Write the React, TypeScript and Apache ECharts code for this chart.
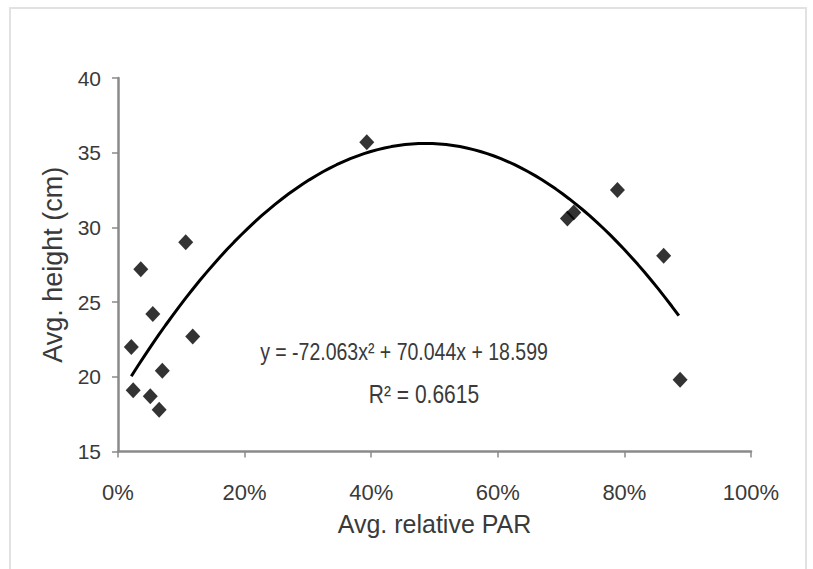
import React, { useEffect, useRef } from "react";
import * as echarts from "echarts";

// Scatter data: average relative PAR (fraction) vs average height (cm)
const parX = [0.021, 0.024, 0.036, 0.051, 0.055, 0.065, 0.070, 0.107, 0.118, 0.393, 0.710, 0.720, 0.789, 0.862, 0.888];
const heightY = [22.0, 19.1, 27.2, 18.7, 24.2, 17.8, 20.4, 29.0, 22.7, 35.7, 30.6, 31.0, 32.5, 28.1, 19.8];

// Polynomial trend line shown in the chart: y = a x^2 + b x + c
const trendCoeffs = [-72.063, 70.044, 18.599];
const trendRange = [0.021, 0.886];
const trendSteps = 80;

const xTicks = [0, 0.2, 0.4, 0.6, 0.8, 1.0];
const yTicks = [15, 20, 25, 30, 35, 40];

const equationText = "y = -72.063x² + 70.044x + 18.599";
const r2Text = "R² = 0.6615";

const SANS = "'Liberation Sans', Arial, sans-serif";
const TEXT = "#3a3a3a";

export default function App() {
  const ref = useRef<HTMLDivElement>(null);
  useEffect(() => {
    if (!ref.current) return;
    const chart = echarts.init(ref.current, undefined, { renderer: "svg" });
    const [a, b, c] = trendCoeffs;
    const trend: number[][] = [];
    for (let i = 0; i <= trendSteps; i++) {
      const x = trendRange[0] + ((trendRange[1] - trendRange[0]) * i) / trendSteps;
      trend.push([x, a * x * x + b * x + c]);
    }
    chart.setOption({
      animation: false,
      backgroundColor: "#ffffff",
      grid: { left: 118, right: 62, top: 78, bottom: 117.5 },
      xAxis: {
        type: "value",
        min: xTicks[0],
        max: xTicks[xTicks.length - 1],
        interval: 0.2,
        name: "Avg. relative PAR",
        nameLocation: "middle",
        nameGap: 60,
        nameTextStyle: { fontFamily: SANS, fontSize: 25, color: TEXT },
        axisLine: { show: true, lineStyle: { color: "#8a8a8a", width: 2.5 } },
        axisTick: { show: true, length: 6, lineStyle: { color: "#8a8a8a", width: 1.5 } },
        splitLine: { show: false },
        axisLabel: {
          margin: 30,
          fontFamily: SANS,
          fontSize: 22,
          color: TEXT,
          formatter: (v: number) => Math.round(v * 100) + "%",
        },
      },
      yAxis: {
        type: "value",
        min: yTicks[0],
        max: yTicks[yTicks.length - 1],
        interval: 5,
        name: "Avg. height (cm)",
        nameLocation: "middle",
        nameGap: 47,
        nameRotate: 90,
        nameTextStyle: { fontFamily: SANS, fontSize: 27, color: TEXT },
        axisLine: { show: true, lineStyle: { color: "#8a8a8a", width: 2.5 } },
        axisTick: { show: true, length: 6, lineStyle: { color: "#8a8a8a", width: 1.5 } },
        splitLine: { show: false },
        axisLabel: { margin: 17, fontFamily: SANS, fontSize: 21, color: TEXT },
      },
      series: [
        {
          type: "line",
          data: trend,
          showSymbol: false,
          symbol: "none",
          smooth: false,
          lineStyle: { color: "#000000", width: 3 },
          z: 2,
        },
        {
          type: "scatter",
          data: parX.map((x, i) => [x, heightY[i]]),
          symbol: "diamond",
          symbolSize: [15, 16],
          itemStyle: { color: "#000000" },
          z: 3,
        },
      ],
      graphic: [
        {
          type: "rect",
          shape: { x: 10, y: 8, width: 796, height: 570 },
          style: { fill: "none", stroke: "#e2e2e2", lineWidth: 2 },
          silent: true,
        },
        {
          type: "text",
          x: 404,
          y: 352,
          scaleY: 1.25,
          style: {
            text: equationText,
            fontFamily: SANS,
            fontSize: 19.5,
            fill: TEXT,
            align: "center",
            verticalAlign: "middle",
          },
        },
        {
          type: "text",
          x: 424,
          y: 394,
          scaleY: 1.2,
          style: {
            text: r2Text,
            fontFamily: SANS,
            fontSize: 21,
            fill: TEXT,
            align: "center",
            verticalAlign: "middle",
          },
        },
      ],
    });
    return () => chart.dispose();
  }, []);
  return (
    <div
      ref={ref}
      style={{ position: "fixed", left: 0, top: 0, width: 813, height: 569, background: "#fff" }}
    />
  );
}
